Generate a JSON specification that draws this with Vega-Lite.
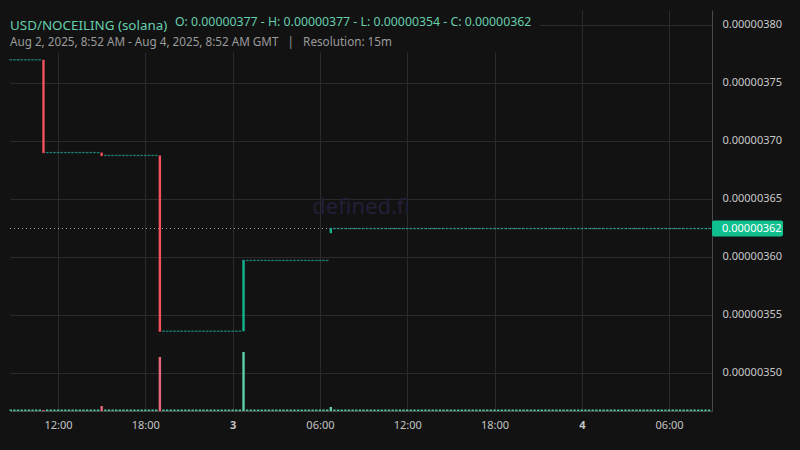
{
  "$schema": "https://vega.github.io/schema/vega-lite/v6.json",
  "width": 702,
  "height": 401,
  "autosize": {"type": "none"},
  "padding": {"left": 10, "top": 10, "right": 88, "bottom": 39},
  "background": "#121212",
  "title": {
    "text": "USD/NOCEILING (solana)",
    "subtitle": "Aug 2, 2025, 8:52 AM - Aug 4, 2025, 8:52 AM GMT \u00a0 | \u00a0 Resolution: 15m",
    "anchor": "start",
    "frame": "group",
    "offset": -39,
    "color": "#66cfae",
    "fontSize": 13.4,
    "fontWeight": "normal",
    "font": "Noto Sans",
    "subtitleColor": "#9b9b9b",
    "subtitleFont": "Noto Sans",
    "subtitleFontSize": 11.7,
    "subtitlePadding": 5
  },
  "data": {
    "format": {"parse": {"t": "utc:'%Y-%m-%dT%H:%M'"}},
    "values": [
      {"t": "2025-08-02T08:45", "c": 0.00000377, "v": 1.5},
      {"t": "2025-08-02T09:00", "c": 0.00000377, "v": 1.5},
      {"t": "2025-08-02T09:15", "c": 0.00000377, "v": 1.5},
      {"t": "2025-08-02T09:30", "c": 0.00000377, "v": 1.5},
      {"t": "2025-08-02T09:45", "c": 0.00000377, "v": 1.5},
      {"t": "2025-08-02T10:00", "c": 0.00000377, "v": 1.5},
      {"t": "2025-08-02T10:15", "c": 0.00000377, "v": 1.5},
      {"t": "2025-08-02T10:30", "c": 0.00000377, "v": 1.5},
      {"t": "2025-08-02T10:45", "c": 0.00000377, "v": 1.5},
      {"t": "2025-08-02T11:00", "o": 0.00000377, "c": 0.00000369, "v": 1},
      {"t": "2025-08-02T11:15", "c": 0.00000369, "v": 1.5},
      {"t": "2025-08-02T11:30", "c": 0.00000369, "v": 1.5},
      {"t": "2025-08-02T11:45", "c": 0.00000369, "v": 1.5},
      {"t": "2025-08-02T12:00", "c": 0.00000369, "v": 1.5},
      {"t": "2025-08-02T12:15", "c": 0.00000369, "v": 1.5},
      {"t": "2025-08-02T12:30", "c": 0.00000369, "v": 1.5},
      {"t": "2025-08-02T12:45", "c": 0.00000369, "v": 1.5},
      {"t": "2025-08-02T13:00", "c": 0.00000369, "v": 1.5},
      {"t": "2025-08-02T13:15", "c": 0.00000369, "v": 1.5},
      {"t": "2025-08-02T13:30", "c": 0.00000369, "v": 1.5},
      {"t": "2025-08-02T13:45", "c": 0.00000369, "v": 1.5},
      {"t": "2025-08-02T14:00", "c": 0.00000369, "v": 1.5},
      {"t": "2025-08-02T14:15", "c": 0.00000369, "v": 1.5},
      {"t": "2025-08-02T14:30", "c": 0.00000369, "v": 1.5},
      {"t": "2025-08-02T14:45", "c": 0.00000369, "v": 1.5},
      {"t": "2025-08-02T15:00", "o": 0.00000369, "c": 0.0000036875, "v": 5},
      {"t": "2025-08-02T15:15", "c": 0.0000036875, "v": 1.5},
      {"t": "2025-08-02T15:30", "c": 0.0000036875, "v": 1.5},
      {"t": "2025-08-02T15:45", "c": 0.0000036875, "v": 1.5},
      {"t": "2025-08-02T16:00", "c": 0.0000036875, "v": 1.5},
      {"t": "2025-08-02T16:15", "c": 0.0000036875, "v": 1.5},
      {"t": "2025-08-02T16:30", "c": 0.0000036875, "v": 1.5},
      {"t": "2025-08-02T16:45", "c": 0.0000036875, "v": 1.5},
      {"t": "2025-08-02T17:00", "c": 0.0000036875, "v": 1.5},
      {"t": "2025-08-02T17:15", "c": 0.0000036875, "v": 1.5},
      {"t": "2025-08-02T17:30", "c": 0.0000036875, "v": 1.5},
      {"t": "2025-08-02T17:45", "c": 0.0000036875, "v": 1.5},
      {"t": "2025-08-02T18:00", "c": 0.0000036875, "v": 1.5},
      {"t": "2025-08-02T18:15", "c": 0.0000036875, "v": 1.5},
      {"t": "2025-08-02T18:30", "c": 0.0000036875, "v": 1.5},
      {"t": "2025-08-02T18:45", "c": 0.0000036875, "v": 1.5},
      {"t": "2025-08-02T19:00", "o": 0.0000036875, "c": 0.000003536, "v": 54},
      {"t": "2025-08-02T19:15", "c": 0.000003536, "v": 1.5},
      {"t": "2025-08-02T19:30", "c": 0.000003536, "v": 1.5},
      {"t": "2025-08-02T19:45", "c": 0.000003536, "v": 1.5},
      {"t": "2025-08-02T20:00", "c": 0.000003536, "v": 1.5},
      {"t": "2025-08-02T20:15", "c": 0.000003536, "v": 1.5},
      {"t": "2025-08-02T20:30", "c": 0.000003536, "v": 1.5},
      {"t": "2025-08-02T20:45", "c": 0.000003536, "v": 1.5},
      {"t": "2025-08-02T21:00", "c": 0.000003536, "v": 1.5},
      {"t": "2025-08-02T21:15", "c": 0.000003536, "v": 1.5},
      {"t": "2025-08-02T21:30", "c": 0.000003536, "v": 1.5},
      {"t": "2025-08-02T21:45", "c": 0.000003536, "v": 1.5},
      {"t": "2025-08-02T22:00", "c": 0.000003536, "v": 1.5},
      {"t": "2025-08-02T22:15", "c": 0.000003536, "v": 1.5},
      {"t": "2025-08-02T22:30", "c": 0.000003536, "v": 1.5},
      {"t": "2025-08-02T22:45", "c": 0.000003536, "v": 1.5},
      {"t": "2025-08-02T23:00", "c": 0.000003536, "v": 1.5},
      {"t": "2025-08-02T23:15", "c": 0.000003536, "v": 1.5},
      {"t": "2025-08-02T23:30", "c": 0.000003536, "v": 1.5},
      {"t": "2025-08-02T23:45", "c": 0.000003536, "v": 1.5},
      {"t": "2025-08-03T00:00", "c": 0.000003536, "v": 1.5},
      {"t": "2025-08-03T00:15", "c": 0.000003536, "v": 1.5},
      {"t": "2025-08-03T00:30", "c": 0.000003536, "v": 1.5},
      {"t": "2025-08-03T00:45", "o": 0.000003536, "c": 0.000003597, "v": 59},
      {"t": "2025-08-03T01:00", "c": 0.000003597, "v": 1.5},
      {"t": "2025-08-03T01:15", "c": 0.000003597, "v": 1.5},
      {"t": "2025-08-03T01:30", "c": 0.000003597, "v": 1.5},
      {"t": "2025-08-03T01:45", "c": 0.000003597, "v": 1.5},
      {"t": "2025-08-03T02:00", "c": 0.000003597, "v": 1.5},
      {"t": "2025-08-03T02:15", "c": 0.000003597, "v": 1.5},
      {"t": "2025-08-03T02:30", "c": 0.000003597, "v": 1.5},
      {"t": "2025-08-03T02:45", "c": 0.000003597, "v": 1.5},
      {"t": "2025-08-03T03:00", "c": 0.000003597, "v": 1.5},
      {"t": "2025-08-03T03:15", "c": 0.000003597, "v": 1.5},
      {"t": "2025-08-03T03:30", "c": 0.000003597, "v": 1.5},
      {"t": "2025-08-03T03:45", "c": 0.000003597, "v": 1.5},
      {"t": "2025-08-03T04:00", "c": 0.000003597, "v": 1.5},
      {"t": "2025-08-03T04:15", "c": 0.000003597, "v": 1.5},
      {"t": "2025-08-03T04:30", "c": 0.000003597, "v": 1.5},
      {"t": "2025-08-03T04:45", "c": 0.000003597, "v": 1.5},
      {"t": "2025-08-03T05:00", "c": 0.000003597, "v": 1.5},
      {"t": "2025-08-03T05:15", "c": 0.000003597, "v": 1.5},
      {"t": "2025-08-03T05:30", "c": 0.000003597, "v": 1.5},
      {"t": "2025-08-03T05:45", "c": 0.000003597, "v": 1.5},
      {"t": "2025-08-03T06:00", "c": 0.000003597, "v": 1.5},
      {"t": "2025-08-03T06:15", "c": 0.000003597, "v": 1.5},
      {"t": "2025-08-03T06:30", "c": 0.000003597, "v": 1.5},
      {"t": "2025-08-03T06:45", "o": 0.0000036205, "c": 0.0000036245, "v": 4},
      {"t": "2025-08-03T07:00", "c": 0.0000036245, "v": 1.5},
      {"t": "2025-08-03T07:15", "c": 0.0000036245, "v": 1.5},
      {"t": "2025-08-03T07:30", "c": 0.0000036245, "v": 1.5},
      {"t": "2025-08-03T07:45", "c": 0.0000036245, "v": 1.5},
      {"t": "2025-08-03T08:00", "c": 0.0000036245, "v": 1.5},
      {"t": "2025-08-03T08:15", "c": 0.0000036245, "v": 1.5},
      {"t": "2025-08-03T08:30", "c": 0.0000036245, "v": 1.5},
      {"t": "2025-08-03T08:45", "c": 0.0000036245, "v": 1.5},
      {"t": "2025-08-03T09:00", "c": 0.0000036245, "v": 1.5},
      {"t": "2025-08-03T09:15", "c": 0.0000036245, "v": 1.5},
      {"t": "2025-08-03T09:30", "c": 0.0000036245, "v": 1.5},
      {"t": "2025-08-03T09:45", "c": 0.0000036245, "v": 1.5},
      {"t": "2025-08-03T10:00", "c": 0.0000036245, "v": 1.5},
      {"t": "2025-08-03T10:15", "c": 0.0000036245, "v": 1.5},
      {"t": "2025-08-03T10:30", "c": 0.0000036245, "v": 1.5},
      {"t": "2025-08-03T10:45", "c": 0.0000036245, "v": 1.5},
      {"t": "2025-08-03T11:00", "c": 0.0000036245, "v": 1.5},
      {"t": "2025-08-03T11:15", "c": 0.0000036245, "v": 1.5},
      {"t": "2025-08-03T11:30", "c": 0.0000036245, "v": 1.5},
      {"t": "2025-08-03T11:45", "c": 0.0000036245, "v": 1.5},
      {"t": "2025-08-03T12:00", "c": 0.0000036245, "v": 1.5},
      {"t": "2025-08-03T12:15", "c": 0.0000036245, "v": 1.5},
      {"t": "2025-08-03T12:30", "c": 0.0000036245, "v": 1.5},
      {"t": "2025-08-03T12:45", "c": 0.0000036245, "v": 1.5},
      {"t": "2025-08-03T13:00", "c": 0.0000036245, "v": 1.5},
      {"t": "2025-08-03T13:15", "c": 0.0000036245, "v": 1.5},
      {"t": "2025-08-03T13:30", "c": 0.0000036245, "v": 1.5},
      {"t": "2025-08-03T13:45", "c": 0.0000036245, "v": 1.5},
      {"t": "2025-08-03T14:00", "c": 0.0000036245, "v": 1.5},
      {"t": "2025-08-03T14:15", "c": 0.0000036245, "v": 1.5},
      {"t": "2025-08-03T14:30", "c": 0.0000036245, "v": 1.5},
      {"t": "2025-08-03T14:45", "c": 0.0000036245, "v": 1.5},
      {"t": "2025-08-03T15:00", "c": 0.0000036245, "v": 1.5},
      {"t": "2025-08-03T15:15", "c": 0.0000036245, "v": 1.5},
      {"t": "2025-08-03T15:30", "c": 0.0000036245, "v": 1.5},
      {"t": "2025-08-03T15:45", "c": 0.0000036245, "v": 1.5},
      {"t": "2025-08-03T16:00", "c": 0.0000036245, "v": 1.5},
      {"t": "2025-08-03T16:15", "c": 0.0000036245, "v": 1.5},
      {"t": "2025-08-03T16:30", "c": 0.0000036245, "v": 1.5},
      {"t": "2025-08-03T16:45", "c": 0.0000036245, "v": 1.5},
      {"t": "2025-08-03T17:00", "c": 0.0000036245, "v": 1.5},
      {"t": "2025-08-03T17:15", "c": 0.0000036245, "v": 1.5},
      {"t": "2025-08-03T17:30", "c": 0.0000036245, "v": 1.5},
      {"t": "2025-08-03T17:45", "c": 0.0000036245, "v": 1.5},
      {"t": "2025-08-03T18:00", "c": 0.0000036245, "v": 1.5},
      {"t": "2025-08-03T18:15", "c": 0.0000036245, "v": 1.5},
      {"t": "2025-08-03T18:30", "c": 0.0000036245, "v": 1.5},
      {"t": "2025-08-03T18:45", "c": 0.0000036245, "v": 1.5},
      {"t": "2025-08-03T19:00", "c": 0.0000036245, "v": 1.5},
      {"t": "2025-08-03T19:15", "c": 0.0000036245, "v": 1.5},
      {"t": "2025-08-03T19:30", "c": 0.0000036245, "v": 1.5},
      {"t": "2025-08-03T19:45", "c": 0.0000036245, "v": 1.5},
      {"t": "2025-08-03T20:00", "c": 0.0000036245, "v": 1.5},
      {"t": "2025-08-03T20:15", "c": 0.0000036245, "v": 1.5},
      {"t": "2025-08-03T20:30", "c": 0.0000036245, "v": 1.5},
      {"t": "2025-08-03T20:45", "c": 0.0000036245, "v": 1.5},
      {"t": "2025-08-03T21:00", "c": 0.0000036245, "v": 1.5},
      {"t": "2025-08-03T21:15", "c": 0.0000036245, "v": 1.5},
      {"t": "2025-08-03T21:30", "c": 0.0000036245, "v": 1.5},
      {"t": "2025-08-03T21:45", "c": 0.0000036245, "v": 1.5},
      {"t": "2025-08-03T22:00", "c": 0.0000036245, "v": 1.5},
      {"t": "2025-08-03T22:15", "c": 0.0000036245, "v": 1.5},
      {"t": "2025-08-03T22:30", "c": 0.0000036245, "v": 1.5},
      {"t": "2025-08-03T22:45", "c": 0.0000036245, "v": 1.5},
      {"t": "2025-08-03T23:00", "c": 0.0000036245, "v": 1.5},
      {"t": "2025-08-03T23:15", "c": 0.0000036245, "v": 1.5},
      {"t": "2025-08-03T23:30", "c": 0.0000036245, "v": 1.5},
      {"t": "2025-08-03T23:45", "c": 0.0000036245, "v": 1.5},
      {"t": "2025-08-04T00:00", "c": 0.0000036245, "v": 1.5},
      {"t": "2025-08-04T00:15", "c": 0.0000036245, "v": 1.5},
      {"t": "2025-08-04T00:30", "c": 0.0000036245, "v": 1.5},
      {"t": "2025-08-04T00:45", "c": 0.0000036245, "v": 1.5},
      {"t": "2025-08-04T01:00", "c": 0.0000036245, "v": 1.5},
      {"t": "2025-08-04T01:15", "c": 0.0000036245, "v": 1.5},
      {"t": "2025-08-04T01:30", "c": 0.0000036245, "v": 1.5},
      {"t": "2025-08-04T01:45", "c": 0.0000036245, "v": 1.5},
      {"t": "2025-08-04T02:00", "c": 0.0000036245, "v": 1.5},
      {"t": "2025-08-04T02:15", "c": 0.0000036245, "v": 1.5},
      {"t": "2025-08-04T02:30", "c": 0.0000036245, "v": 1.5},
      {"t": "2025-08-04T02:45", "c": 0.0000036245, "v": 1.5},
      {"t": "2025-08-04T03:00", "c": 0.0000036245, "v": 1.5},
      {"t": "2025-08-04T03:15", "c": 0.0000036245, "v": 1.5},
      {"t": "2025-08-04T03:30", "c": 0.0000036245, "v": 1.5},
      {"t": "2025-08-04T03:45", "c": 0.0000036245, "v": 1.5},
      {"t": "2025-08-04T04:00", "c": 0.0000036245, "v": 1.5},
      {"t": "2025-08-04T04:15", "c": 0.0000036245, "v": 1.5},
      {"t": "2025-08-04T04:30", "c": 0.0000036245, "v": 1.5},
      {"t": "2025-08-04T04:45", "c": 0.0000036245, "v": 1.5},
      {"t": "2025-08-04T05:00", "c": 0.0000036245, "v": 1.5},
      {"t": "2025-08-04T05:15", "c": 0.0000036245, "v": 1.5},
      {"t": "2025-08-04T05:30", "c": 0.0000036245, "v": 1.5},
      {"t": "2025-08-04T05:45", "c": 0.0000036245, "v": 1.5},
      {"t": "2025-08-04T06:00", "c": 0.0000036245, "v": 1.5},
      {"t": "2025-08-04T06:15", "c": 0.0000036245, "v": 1.5},
      {"t": "2025-08-04T06:30", "c": 0.0000036245, "v": 1.5},
      {"t": "2025-08-04T06:45", "c": 0.0000036245, "v": 1.5},
      {"t": "2025-08-04T07:00", "c": 0.0000036245, "v": 1.5},
      {"t": "2025-08-04T07:15", "c": 0.0000036245, "v": 1.5},
      {"t": "2025-08-04T07:30", "c": 0.0000036245, "v": 1.5},
      {"t": "2025-08-04T07:45", "c": 0.0000036245, "v": 1.5},
      {"t": "2025-08-04T08:00", "c": 0.0000036245, "v": 1.5},
      {"t": "2025-08-04T08:15", "c": 0.0000036245, "v": 1.5},
      {"t": "2025-08-04T08:30", "c": 0.0000036245, "v": 1.5},
      {"t": "2025-08-04T08:45", "c": 0.0000036245, "v": 1.5}
    ]
  },
  "encoding": {
    "x": {
      "field": "t",
      "type": "temporal",
      "title": null,
      "scale": {
        "type": "utc",
        "domain": [
          {"year": 2025, "month": 8, "date": 2, "hours": 9, "minutes": 2, "seconds": 36, "utc": true},
          {"year": 2025, "month": 8, "date": 4, "hours": 8, "minutes": 36, "seconds": 15, "utc": true}
        ]
      },
      "axis": {
        "values": [
          {"year": 2025, "month": 8, "date": 2, "hours": 12, "utc": true},
          {"year": 2025, "month": 8, "date": 2, "hours": 18, "utc": true},
          {"year": 2025, "month": 8, "date": 3, "hours": 0, "utc": true},
          {"year": 2025, "month": 8, "date": 3, "hours": 6, "utc": true},
          {"year": 2025, "month": 8, "date": 3, "hours": 12, "utc": true},
          {"year": 2025, "month": 8, "date": 3, "hours": 18, "utc": true},
          {"year": 2025, "month": 8, "date": 4, "hours": 0, "utc": true},
          {"year": 2025, "month": 8, "date": 4, "hours": 6, "utc": true}
        ],
        "labelExpr": "utchours(datum.value) == 0 ? utcFormat(datum.value, '%-d') : utcFormat(datum.value, '%H:%M')",
        "labelFontWeight": {"condition": {"test": "utchours(datum.value) == 0", "value": "bold"}, "value": "normal"},
        "ticks": false,
        "labelPadding": 8,
        "labelFontSize": 11,
        "labelColor": "#c4c4c4",
        "domainColor": "#4a4a4a",
        "gridColor": "#2b2b2b"
      }
    }
  },
  "layer": [
    {
      "encoding": {
        "y": {
          "field": "c",
          "type": "quantitative",
          "title": null,
          "scale": {"domain": [0.0000034672, 0.0000038129], "nice": false, "zero": false},
          "axis": {
            "orient": "right",
            "values": [0.0000035, 0.00000355, 0.0000036, 0.00000365, 0.0000037, 0.00000375, 0.0000038],
            "format": ".8f",
            "ticks": false,
            "labelPadding": 10,
            "labelFontSize": 11,
            "labelColor": "#c8c8c8",
            "domainColor": "#4a4a4a",
            "gridColor": "#2b2b2b"
          }
        }
      },
      "layer": [
        {
          "transform": [{"filter": "datum.v > 58"}],
          "mark": {"type": "rect", "color": "#121212"},
          "encoding": {
            "x": {"datum": {"year": 2025, "month": 8, "date": 2, "hours": 8, "minutes": 42, "utc": true}, "type": "temporal"},
            "x2": {"datum": {"year": 2025, "month": 8, "date": 3, "hours": 21, "minutes": 7, "utc": true}},
            "y": {"datum": 0.0000038129, "type": "quantitative", "scale": {"domain": [0.0000034672, 0.0000038129], "nice": false, "zero": false}, "title": null},
            "y2": {"datum": 0.000003776}
          }
        },
        {
          "transform": [{"filter": "datum.v > 58"}],
          "mark": {"type": "text", "align": "left", "baseline": "alphabetic", "fontSize": 12.3, "font": "Noto Sans", "color": "#66cfae"},
          "encoding": {
            "x": {"datum": {"year": 2025, "month": 8, "date": 2, "hours": 20, "minutes": 2, "utc": true}, "type": "temporal"},
            "y": {"datum": 0.0000037994, "type": "quantitative", "scale": {"domain": [0.0000034672, 0.0000038129], "nice": false, "zero": false}, "title": null},
            "text": {"value": "O: 0.00000377 - H: 0.00000377 - L: 0.00000354 - C: 0.00000362"}
          }
        },
        {
          "transform": [{"filter": "datum.v > 58"}],
          "mark": {"type": "text", "fontSize": 22, "font": "Noto Sans", "color": "#221f38"},
          "encoding": {
            "x": {"datum": {"year": 2025, "month": 8, "date": 3, "hours": 8, "minutes": 50, "utc": true}, "type": "temporal"},
            "y": {"datum": 0.000003643, "type": "quantitative", "scale": {"domain": [0.0000034672, 0.0000038129], "nice": false, "zero": false}, "title": null},
            "text": {"value": "defined.fi"}
          }
        },
        {
          "transform": [{"filter": "datum.v > 58"}],
          "mark": {"type": "rule", "color": "#a0a0a0", "strokeDash": [1, 3], "strokeWidth": 1},
          "encoding": {
            "x": {"datum": {"year": 2025, "month": 8, "date": 2, "hours": 8, "minutes": 42, "utc": true}, "type": "temporal"},
            "x2": {"datum": {"year": 2025, "month": 8, "date": 4, "hours": 8, "minutes": 57, "utc": true}},
            "y": {"datum": 0.0000036245, "type": "quantitative", "scale": {"domain": [0.0000034672, 0.0000038129], "nice": false, "zero": false}, "title": null}
          }
        },
        {
          "mark": {"type": "bar", "size": 2.4},
          "encoding": {
            "y": {"field": "o", "type": "quantitative", "scale": {"domain": [0.0000034672, 0.0000038129], "nice": false, "zero": false}, "title": null},
            "y2": {"field": "c"},
            "color": {"condition": {"test": "datum.o > datum.c", "value": "#f2515d"}, "value": "#14b48f"}
          }
        },
        {
          "mark": {"type": "tick", "orient": "horizontal", "size": 2.7, "thickness": 1.3},
          "encoding": {
            "color": {"condition": {"test": "datum.o > datum.c", "value": "#f2515d"}, "value": "#22a99b"}
          }
        },
        {
          "transform": [{"filter": "datum.v > 58"}],
          "mark": {"type": "rect", "color": "#0fbf8e", "cornerRadius": 2, "x2Offset": 71, "yOffset": -8, "y2Offset": 8},
          "encoding": {
            "x": {"datum": {"year": 2025, "month": 8, "date": 4, "hours": 8, "minutes": 57, "utc": true}, "type": "temporal"},
            "x2": {"datum": {"year": 2025, "month": 8, "date": 4, "hours": 8, "minutes": 57, "utc": true}},
            "y": {"datum": 0.0000036245, "type": "quantitative", "scale": {"domain": [0.0000034672, 0.0000038129], "nice": false, "zero": false}, "title": null},
            "y2": {"datum": 0.0000036245}
          }
        },
        {
          "transform": [{"filter": "datum.v > 58"}],
          "mark": {"type": "text", "align": "left", "dx": 10, "fontSize": 11, "color": "#ffffff", "font": "Noto Sans"},
          "encoding": {
            "x": {"datum": {"year": 2025, "month": 8, "date": 4, "hours": 8, "minutes": 57, "utc": true}, "type": "temporal"},
            "y": {"datum": 0.0000036245, "type": "quantitative", "scale": {"domain": [0.0000034672, 0.0000038129], "nice": false, "zero": false}, "title": null},
            "text": {"value": "0.00000362"}
          }
        }
      ]
    },
    {
      "mark": {"type": "bar", "size": 2.4},
      "encoding": {
        "y": {"field": "v", "type": "quantitative", "scale": {"domain": [0, 401], "nice": false}, "axis": null},
        "color": {
          "condition": [
            {"test": "datum.o > datum.c", "value": "#e8677a"},
            {"test": "datum.o < datum.c", "value": "#5fd0a6"}
          ],
          "value": "#4cc5a0"
        }
      }
    }
  ],
  "resolve": {"scale": {"y": "independent"}},
  "config": {
    "view": {"stroke": null},
    "font": "Noto Sans",
    "axis": {"labelFont": "Noto Sans"}
  }
}
